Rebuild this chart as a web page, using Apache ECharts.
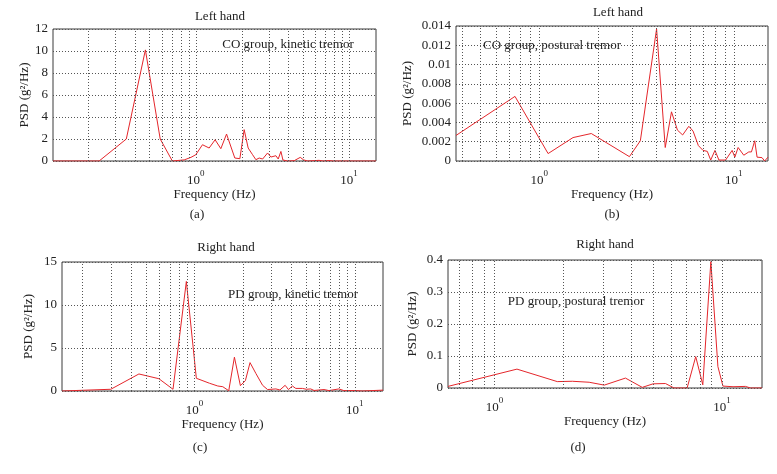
<!DOCTYPE html>
<html><head><meta charset="utf-8">
<script src="https://cdn.jsdelivr.net/npm/echarts@6/dist/echarts.min.js"></script>
<style>html,body{margin:0;padding:0;background:#fff}#c{width:777px;height:474px}</style>
</head><body><div id="c"></div>
<script>
// Panel (a): Left hand, CO group, kinetic tremor
const freqA = [0.117,0.234,0.352,0.469,0.586,0.703,0.84,0.93,1.0,1.106,1.222,1.337,1.457,1.588,1.798,1.939,2.069,2.197,2.348,2.467,2.593,2.729,2.942,3.092,3.333,3.451,3.594,3.704,3.975,4.39,4.805,5.057,5.37,6.37,6.77,7.4,7.86,15];
const psdA  = [0,0,2.0,10.1,2.0,0,0.1,0.33,0.57,1.48,1.18,1.93,1.12,2.45,0.27,0.21,2.85,1.18,0.57,0.12,0.27,0.18,0.73,0.36,0.48,0.18,0.87,0.09,0,0.03,0.33,0.1,0,0.06,0,0.04,0,0];
// Panel (b): Left hand, CO group, postural tremor
const freqB = [0.373,0.75,1.11,1.491,1.851,2.907,3.309,4.01,4.443,4.784,5.135,5.459,5.873,6.177,6.576,6.95,7.31,7.61,8.005,8.39,9.08,9.81,10.13,10.53,11.26,11.95,12.33,12.82,13.18,13.97,14.42,15];
const psdB  = [0.00265,0.0067,0.00077,0.00243,0.00285,0.00045,0.0021,0.0137,0.0014,0.0051,0.0032,0.0027,0.0036,0.0031,0.0016,0.0011,0.001,0.0001,0.0011,0.0001,0.0001,0.0011,0.0004,0.0014,0.0006,0.00094,0.00094,0.0021,0.0004,0.00035,0,0.0004];
// Panel (c): Right hand, PD group, kinetic tremor
const freqC = [0.1486,0.2996,0.449,0.598,0.733,0.888,1.025,1.239,1.395,1.499,1.633,1.772,1.931,2.074,2.218,2.416,2.657,2.853,3.217,3.407,3.674,3.852,4.079,4.281,4.707,4.983,5.306,5.565,6.421,6.895,7.956,8.545,10.1,11.1,15];
const psdC  = [0,0.2,1.98,1.43,0.2,12.74,1.48,0.9,0.58,0.5,0.03,3.93,0.62,1.2,3.3,2.02,0.66,0.17,0.24,0.12,0.66,0.17,0.58,0.3,0.3,0.2,0.24,0.06,0.17,0.05,0.24,0.05,0.05,0,0.1];
// Panel (d): Right hand, PD group, postural tremor
const freqD = [0.625,1.256,1.889,2.201,2.608,3.039,3.766,4.465,4.981,5.646,6.16,7.03,7.67,8.24,8.94,9.6,10.1,11.19,12.69,13.35,15];
const psdD  = [0.005,0.059,0.02,0.021,0.018,0.009,0.031,0.002,0.013,0.014,0,0,0.098,0.01,0.395,0.067,0.006,0.004,0.005,0,0];

// axis ranges / ticks
const xMins = [0.117, 0.373, 0.1486, 0.625];
const xMax = 15;
const yMaxes = [12, 0.014, 15, 0.4];
const yIntervals = [2, 0.002, 5, 0.1];
const gridFreqs = [0.2,0.3,0.4,0.5,0.6,0.7,0.8,0.9,1,2,3,4,5,6,7,8,9,10];
const handTitles = ['Left hand','Left hand','Right hand','Right hand'];
const groupNotes = ['CO group, kinetic tremor','CO group, postural tremor','PD group, kinetic tremor','PD group, postural tremor'];
const captions = ['(a)','(b)','(c)','(d)'];
const xName = 'Frequency (Hz)';
const yName = 'PSD (g\u00B2/Hz)';

const FONT = '"Liberation Serif", "Times New Roman", serif';
const freqs = [freqA, freqB, freqC, freqD];
const psds = [psdA, psdB, psdC, psdD];

// layout (pixels)
const grids = [
  {left: 53, top: 29, width: 323, height: 132},
  {left: 456, top: 26, width: 312, height: 135},
  {left: 62, top: 262, width: 321, height: 129},
  {left: 448, top: 260, width: 314, height: 128}
];
const yNameGaps = [19, 42, 27, 29];
const xNameGaps = [23, 23, 24, 26];
const titlePos = [[220, 17], [618, 13], [226, 248], [605, 245]];
const notePos = [[288, 45], [552, 46], [293, 295], [576, 302]];
const capPos = [[197, 215], [612, 215], [200, 448], [578, 448]];

const supFormatter = function (v) {
  const n = Math.round(Math.log10(v));
  if (Math.abs(v - Math.pow(10, n)) / Math.pow(10, n) < 1e-6) return '{b|10}{s|' + n + '}';
  return '';
};

const option = {
  animation: false,
  backgroundColor: '#fff',
  textStyle: {fontFamily: FONT},
  grid: grids.map(g => Object.assign({show: true, borderColor: '#3a3a3a', borderWidth: 1, backgroundColor: 'transparent', containLabel: false}, g)),
  xAxis: grids.map((g, i) => ({
    type: 'log', logBase: 10, gridIndex: i, min: xMins[i], max: xMax,
    name: xName, nameLocation: 'middle', nameGap: xNameGaps[i],
    nameTextStyle: {fontFamily: FONT, fontSize: 13, color: '#222'},
    axisLine: {show: false}, axisTick: {show: false}, splitLine: {show: false},
    axisLabel: {
      margin: 8, formatter: supFormatter, showMinLabel: true, showMaxLabel: true,
      rich: {
        b: {fontFamily: FONT, fontSize: 13, color: '#222', lineHeight: 18, verticalAlign: 'bottom'},
        s: {fontFamily: FONT, fontSize: 9, color: '#222', lineHeight: 18, verticalAlign: 'top'}
      }
    }
  })),
  yAxis: grids.map((g, i) => ({
    type: 'value', gridIndex: i, min: 0, max: yMaxes[i], interval: yIntervals[i],
    name: yName, nameLocation: 'middle', nameGap: yNameGaps[i],
    nameTextStyle: {fontFamily: FONT, fontSize: 13, color: '#222'},
    axisLine: {show: false}, axisTick: {show: false},
    axisLabel: {fontFamily: FONT, fontSize: 13, color: '#222', margin: 5},
    splitLine: {show: true, lineStyle: {color: '#555', width: 1, type: [1, 2]}}
  })),
  series: [],
  graphic: []
};

for (let i = 0; i < 4; i++) {
  // vertical log grid lines, positioned by the x axis scale
  option.series.push({
    type: 'line', xAxisIndex: i, yAxisIndex: i, data: [], z: 1, silent: true,
    markLine: {
      silent: true, symbol: ['none', 'none'], label: {show: false},
      lineStyle: {color: '#555', width: 1, type: [1, 2]},
      data: gridFreqs.filter(f => f > xMins[i] && f < xMax).map(f => ({xAxis: f}))
    }
  });
  option.series.push({
    type: 'line', xAxisIndex: i, yAxisIndex: i, z: 3,
    showSymbol: false, symbol: 'none',
    lineStyle: {color: '#e4262b', width: 1},
    data: freqs[i].map((f, k) => [f, psds[i][k]])
  });
  const txt = (t, p) => ({
    type: 'text', x: p[0], y: p[1], z: 10,
    style: {text: t, font: '13px ' + FONT, fill: '#222', align: 'center', verticalAlign: 'middle', textAlign: 'center', textVerticalAlign: 'middle'}
  });
  option.graphic.push(txt(handTitles[i], titlePos[i]));
  option.graphic.push(txt(groupNotes[i], notePos[i]));
  option.graphic.push(txt(captions[i], capPos[i]));
}

const chart = echarts.init(document.getElementById('c'), null, {renderer: 'canvas'});
chart.setOption(option);
</script>
</body></html>
